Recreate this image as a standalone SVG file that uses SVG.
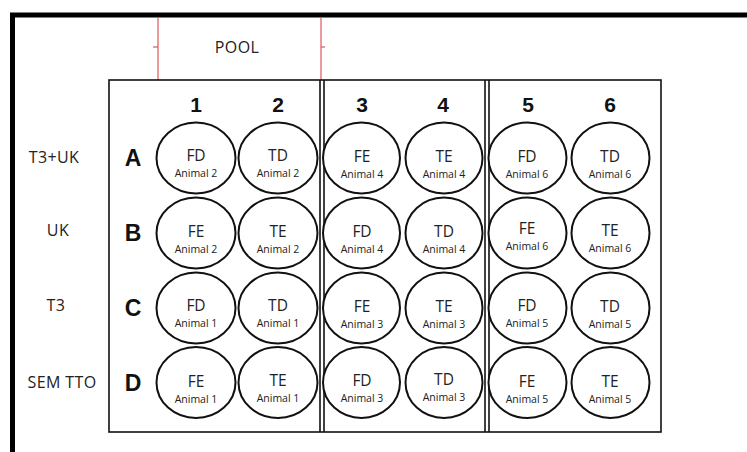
<svg xmlns="http://www.w3.org/2000/svg" width="747" height="452" viewBox="0 0 747 452">
<style>
.well{fill:#fff;stroke:#111;stroke-width:2}
.wt{font-family:"Open Sans","Liberation Sans",sans-serif;font-size:15.5px;fill:#222;text-anchor:middle}
.wa{font-family:"Open Sans","Liberation Sans",sans-serif;font-size:10.5px;fill:#222;text-anchor:middle}
.num{font-family:"Liberation Sans",Arial,sans-serif;font-weight:bold;font-size:21px;fill:#111;text-anchor:middle}
.row{font-family:"Liberation Sans",Arial,sans-serif;font-weight:bold;font-size:23px;fill:#111;text-anchor:middle}
.lbl{font-family:"Open Sans","Liberation Sans",sans-serif;font-size:16px;letter-spacing:0.4px;fill:#222;text-anchor:middle}
.red{stroke:#d9595a;stroke-width:1.2;fill:none}
.div{stroke:#111;stroke-width:1.6}
</style>
<rect width="747" height="452" fill="#fff"/>
<rect x="12.5" y="15" width="760" height="460" fill="none" stroke="#000" stroke-width="5"/>
<g id="pool">
<line class="red" x1="158" y1="17" x2="158" y2="80"/>
<line class="red" x1="321" y1="17" x2="321" y2="80"/>
<line class="red" x1="153" y1="47" x2="158" y2="47"/>
<line class="red" x1="321" y1="47" x2="325" y2="47"/>
<text class="lbl" x="237" y="53">POOL</text>
</g>
<g id="plate">
<rect x="109" y="80" width="552" height="352" fill="none" stroke="#111" stroke-width="1.6"/>
<line class="div" x1="320" y1="80" x2="320" y2="432"/>
<line class="div" x1="324" y1="80" x2="324" y2="432"/>
<line class="div" x1="485" y1="80" x2="485" y2="432"/>
<line class="div" x1="489" y1="80" x2="489" y2="432"/>
</g>
<g id="colnums">
<text class="num" x="196" y="112">1</text>
<text class="num" x="278" y="112">2</text>
<text class="num" x="362" y="112">3</text>
<text class="num" x="443" y="112">4</text>
<text class="num" x="528" y="112">5</text>
<text class="num" x="610" y="112">6</text>
</g>
<g id="rowletters">
<text class="row" x="133" y="166">A</text>
<text class="row" x="133" y="241">B</text>
<text class="row" x="133" y="316">C</text>
<text class="row" x="133" y="391">D</text>
</g>
<g id="treatments">
<text class="lbl" x="54" y="163">T3+UK</text>
<text class="lbl" x="58" y="236">UK</text>
<text class="lbl" x="56" y="311">T3</text>
<text class="lbl" x="62" y="388">SEM TTO</text>
</g>
<g id="A1"><ellipse class="well" cx="196" cy="158" rx="39.5" ry="35.5"/><text class="wt" x="196" y="161">FD</text><text class="wa" x="196" y="176.5">Animal 2</text></g>
<g id="A2"><ellipse class="well" cx="278" cy="158" rx="39.5" ry="35.5"/><text class="wt" x="278" y="161">TD</text><text class="wa" x="278" y="176.5">Animal 2</text></g>
<g id="A3"><ellipse class="well" cx="361.5" cy="158" rx="38.5" ry="35.5"/><text class="wt" x="362" y="162">FE</text><text class="wa" x="362" y="177.5">Animal 4</text></g>
<g id="A4"><ellipse class="well" cx="444" cy="158" rx="38.5" ry="35.5"/><text class="wt" x="444" y="162">TE</text><text class="wa" x="444" y="177.5">Animal 4</text></g>
<g id="A5"><ellipse class="well" cx="527.5" cy="158" rx="39" ry="35.5"/><text class="wt" x="527" y="162">FD</text><text class="wa" x="527" y="177.5">Animal 6</text></g>
<g id="A6"><ellipse class="well" cx="610.5" cy="158" rx="39" ry="35.5"/><text class="wt" x="610" y="162">TD</text><text class="wa" x="610" y="177.5">Animal 6</text></g>

<g id="B1"><ellipse class="well" cx="196" cy="233" rx="39.5" ry="35.5"/><text class="wt" x="196" y="237">FE</text><text class="wa" x="196" y="252.5">Animal 2</text></g>
<g id="B2"><ellipse class="well" cx="278" cy="233" rx="39.5" ry="35.5"/><text class="wt" x="278" y="237">TE</text><text class="wa" x="278" y="252.5">Animal 2</text></g>
<g id="B3"><ellipse class="well" cx="361.5" cy="233" rx="38.5" ry="35.5"/><text class="wt" x="362" y="237">FD</text><text class="wa" x="362" y="252.5">Animal 4</text></g>
<g id="B4"><ellipse class="well" cx="444" cy="233" rx="38.5" ry="35.5"/><text class="wt" x="444" y="237">TD</text><text class="wa" x="444" y="252.5">Animal 4</text></g>
<g id="B5"><ellipse class="well" cx="527.5" cy="233" rx="39" ry="35.5"/><text class="wt" x="527" y="234">FE</text><text class="wa" x="527" y="249.5">Animal 6</text></g>
<g id="B6"><ellipse class="well" cx="610.5" cy="233" rx="39" ry="35.5"/><text class="wt" x="610" y="236">TE</text><text class="wa" x="610" y="251.5">Animal 6</text></g>

<g id="C1"><ellipse class="well" cx="196" cy="308" rx="39.5" ry="35.5"/><text class="wt" x="196" y="311">FD</text><text class="wa" x="196" y="326.5">Animal 1</text></g>
<g id="C2"><ellipse class="well" cx="278" cy="308" rx="39.5" ry="35.5"/><text class="wt" x="278" y="311">TD</text><text class="wa" x="278" y="326.5">Animal 1</text></g>
<g id="C3"><ellipse class="well" cx="361.5" cy="308" rx="38.5" ry="35.5"/><text class="wt" x="362" y="312">FE</text><text class="wa" x="362" y="327.5">Animal 3</text></g>
<g id="C4"><ellipse class="well" cx="444" cy="308" rx="38.5" ry="35.5"/><text class="wt" x="444" y="312">TE</text><text class="wa" x="444" y="327.5">Animal 3</text></g>
<g id="C5"><ellipse class="well" cx="527.5" cy="308" rx="39" ry="35.5"/><text class="wt" x="527" y="311">FD</text><text class="wa" x="527" y="326.5">Animal 5</text></g>
<g id="C6"><ellipse class="well" cx="610.5" cy="308" rx="39" ry="35.5"/><text class="wt" x="610" y="312">TD</text><text class="wa" x="610" y="327.5">Animal 5</text></g>

<g id="D1"><ellipse class="well" cx="196" cy="382.5" rx="39.5" ry="35.5"/><text class="wt" x="196" y="387">FE</text><text class="wa" x="196" y="402.5">Animal 1</text></g>
<g id="D2"><ellipse class="well" cx="278" cy="382.5" rx="39.5" ry="35.5"/><text class="wt" x="278" y="386">TE</text><text class="wa" x="278" y="401.5">Animal 1</text></g>
<g id="D3"><ellipse class="well" cx="361.5" cy="382.5" rx="38.5" ry="35.5"/><text class="wt" x="362" y="386">FD</text><text class="wa" x="362" y="401.5">Animal 3</text></g>
<g id="D4"><ellipse class="well" cx="444" cy="382.5" rx="38.5" ry="35.5"/><text class="wt" x="444" y="385">TD</text><text class="wa" x="444" y="400.5">Animal 3</text></g>
<g id="D5"><ellipse class="well" cx="527.5" cy="382.5" rx="39" ry="35.5"/><text class="wt" x="527" y="387">FE</text><text class="wa" x="527" y="402.5">Animal 5</text></g>
<g id="D6"><ellipse class="well" cx="610.5" cy="382.5" rx="39" ry="35.5"/><text class="wt" x="610" y="387">TE</text><text class="wa" x="610" y="402.5">Animal 5</text></g>
<g id="connectors"></g>
</svg>
